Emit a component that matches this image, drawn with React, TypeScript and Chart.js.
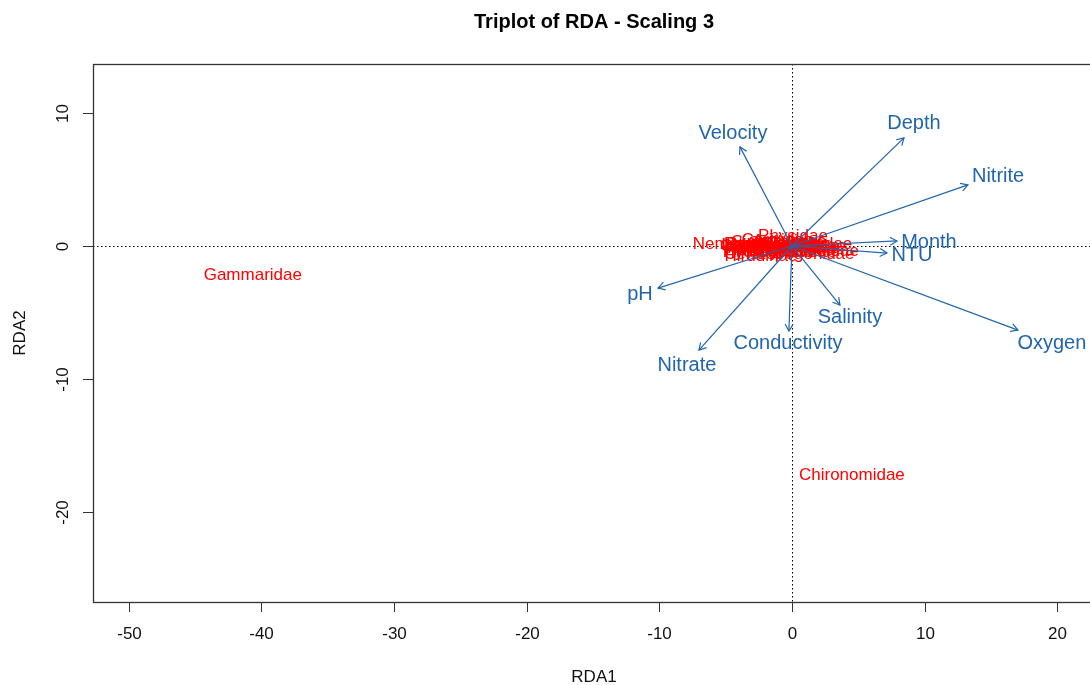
import React, { useEffect, useRef } from "react";
import { Chart, registerables } from "chart.js";

Chart.register(...registerables);

// ---- data ----
const speciesNames = [
  "Gammaridae", "Chironomidae", "Physidae", "Nematoda", "Hirudinae", "Lymnaeidae",
  "Planorbidae", "Baetidae", "Oligochaeta", "Simuliidae", "Caenidae", "Asellidae",
  "Sphaeriidae", "Tipulidae", "Elmidae", "Psychodidae", "Hydrobiidae", "Ancylidae",
  "Corixidae", "Leptoceridae", "Dytiscidae", "Heptageniidae", "Culicidae", "Coenagrionidae",
  "Ceratopogonidae", "Hydropsychidae",
];
const speciesX = [
  -40.65, 4.52, 0.08, -4.52, -2.34, 1.58,
  1.13, -2.6, -1.3, -1.6, -0.5, -2.2,
  0.2, -0.9, 0.6, -1.3, -1.8, -0.2,
  -1.1, -1.6, 0.4, -0.9, -0.7, -0.9,
  -0.2, -0.5,
];
const speciesY = [
  -2.19, -17.26, 0.75, 0.15, -0.75, -0.38,
  0.15, 0.15, -0.15, 0.3, 0.0, -0.2,
  -0.2, -0.4, 0.1, 0.1, -0.45, 0.35,
  0.45, 0.05, -0.5, -0.3, 0.2, -0.05,
  -0.6, 0.0,
];

const envNames = ["Velocity", "Depth", "Nitrite", "Month", "NTU", "Oxygen", "Salinity", "Conductivity", "Nitrate", "pH"];
const envX = [-3.92, 8.45, 13.27, 7.92, 7.16, 17.04, 3.62, -0.23, -7.01, -10.1];
const envY = [7.46, 8.14, 4.6, 0.38, -0.53, -6.33, -4.45, -6.41, -7.84, -3.17];
const envLabelX = [-4.45, 9.2, 15.54, 10.33, 9.05, 19.6, 4.37, -0.3, -7.92, -11.46];
const envLabelY = [8.44, 9.19, 5.2, 0.3, -0.75, -7.31, -5.35, -7.31, -8.97, -3.62];

const xTicks = [-50, -40, -30, -20, -10, 0, 10, 20];
const yTicks = [-20, -10, 0, 10];

const title = "Triplot of RDA - Scaling 3";
const xTitle = "RDA1";
const yTitle = "RDA2";

const BLUE = "#2166ac";
const RED = "#ff0000";
const FONT = "'Liberation Sans', Arial, sans-serif";

const triplotPlugin = {
  id: "triplot",
  beforeDatasetsDraw(chart: any) {
    const { ctx, chartArea: a, scales } = chart;
    const xs = scales.x, ys = scales.y;
    ctx.save();
    ctx.strokeStyle = "#000";
    ctx.lineWidth = 1;
    ctx.setLineDash([1.5, 2.5]);
    const x0 = Math.round(xs.getPixelForValue(0)) + 0.5;
    const y0 = Math.round(ys.getPixelForValue(0)) + 0.5;
    ctx.beginPath();
    ctx.moveTo(x0, a.top); ctx.lineTo(x0, a.bottom);
    ctx.moveTo(a.left, y0); ctx.lineTo(a.right, y0);
    ctx.stroke();
    ctx.setLineDash([]);
    const sp = chart.data.datasets[0].data;
    ctx.fillStyle = RED;
    ctx.font = `17px ${FONT}`;
    ctx.textAlign = "center";
    ctx.textBaseline = "middle";
    sp.forEach((p: any, i: number) => {
      ctx.fillText(speciesNames[i], xs.getPixelForValue(p.x), ys.getPixelForValue(p.y));
    });
    ctx.restore();
  },
  afterDatasetsDraw(chart: any) {
    const { ctx, scales } = chart;
    const xs = scales.x, ys = scales.y;
    ctx.save();
    ctx.strokeStyle = BLUE;
    ctx.lineWidth = 1.2;
    const ox = xs.getPixelForValue(0), oy = ys.getPixelForValue(0);
    envX.forEach((vx, i) => {
      const tx = xs.getPixelForValue(vx), ty = ys.getPixelForValue(envY[i]);
      const ang = Math.atan2(ty - oy, tx - ox);
      const L = 8, w = Math.PI / 6;
      ctx.beginPath();
      ctx.moveTo(tx - L * Math.cos(ang - w), ty - L * Math.sin(ang - w));
      ctx.lineTo(tx, ty);
      ctx.lineTo(tx - L * Math.cos(ang + w), ty - L * Math.sin(ang + w));
      ctx.stroke();
    });
    ctx.fillStyle = BLUE;
    ctx.font = `20px ${FONT}`;
    ctx.textAlign = "center";
    ctx.textBaseline = "middle";
    envNames.forEach((n, i) => {
      ctx.fillText(n, xs.getPixelForValue(envLabelX[i]), ys.getPixelForValue(envLabelY[i]));
    });
    ctx.restore();
  },
  afterDraw(chart: any) {
    const { ctx, chartArea: a, scales } = chart;
    const xs = scales.x, ys = scales.y;
    ctx.save();
    ctx.strokeStyle = "#333";
    ctx.lineWidth = 1.3;
    ctx.strokeRect(a.left + 0.5, a.top + 0.5, a.right - a.left, a.bottom - a.top);
    ctx.fillStyle = "#111";
    ctx.font = `17px ${FONT}`;
    ctx.textAlign = "center";
    ctx.textBaseline = "middle";
    ctx.lineWidth = 1;
    xs.ticks.forEach((t: any) => {
      if (!xTicks.includes(t.value)) return;
      const px = Math.round(xs.getPixelForValue(t.value)) + 0.5;
      ctx.beginPath(); ctx.moveTo(px, a.bottom); ctx.lineTo(px, a.bottom + 10); ctx.stroke();
      ctx.fillText(String(t.value), px, a.bottom + 32);
    });
    ys.ticks.forEach((t: any) => {
      if (!yTicks.includes(t.value)) return;
      const py = Math.round(ys.getPixelForValue(t.value)) + 0.5;
      ctx.beginPath(); ctx.moveTo(a.left, py); ctx.lineTo(a.left - 10, py); ctx.stroke();
      ctx.save();
      ctx.translate(a.left - 30, py);
      ctx.rotate(-Math.PI / 2);
      ctx.fillText(String(t.value), 0, 0);
      ctx.restore();
    });
    const cx = (a.left + a.right) / 2;
    ctx.fillText(xTitle, cx, 677);
    ctx.save();
    ctx.translate(20, (a.top + a.bottom) / 2);
    ctx.rotate(-Math.PI / 2);
    ctx.fillText(yTitle, 0, 0);
    ctx.restore();
    ctx.font = `bold 20px ${FONT}`;
    ctx.fillStyle = "#000";
    ctx.fillText(title, cx, 22);
    ctx.restore();
  },
};

export default function App() {
  const ref = useRef<HTMLCanvasElement | null>(null);
  useEffect(() => {
    if (!ref.current) return;
    const speciesData = speciesX.map((x, i) => ({ x, y: speciesY[i] }));
    const arrowSets = envNames.map((n, i) => ({
      label: n,
      data: [{ x: 0, y: 0 }, { x: envX[i], y: envY[i] }],
      showLine: true,
      borderColor: BLUE,
      borderWidth: 1.2,
      pointRadius: 0,
      fill: false,
    }));
    const chart = new Chart(ref.current, {
      type: "scatter",
      data: {
        datasets: [
          { label: "species", data: speciesData, pointRadius: 0, showLine: false },
          ...arrowSets,
        ] as any,
      },
      options: {
        animation: false,
        responsive: false,
        devicePixelRatio: 1,
        layout: { padding: { left: 93, top: 64, right: 5, bottom: 83 } },
        plugins: { legend: { display: false }, tooltip: { enabled: false }, title: { display: false } },
        events: [],
        scales: {
          x: { type: "linear", display: false, min: -52.7, max: 22.85, ticks: { stepSize: 10, includeBounds: false } },
          y: { type: "linear", display: false, min: -26.8, max: 13.7, ticks: { stepSize: 10, includeBounds: false } },
        },
      } as any,
      plugins: [triplotPlugin],
    });
    return () => chart.destroy();
  }, []);
  return (
    <div style={{ position: "fixed", left: 0, top: 0, width: 1090, height: 685, overflow: "hidden", background: "#fff" }}>
      <canvas ref={ref} width={1100} height={685} style={{ display: "block" }} />
    </div>
  );
}
